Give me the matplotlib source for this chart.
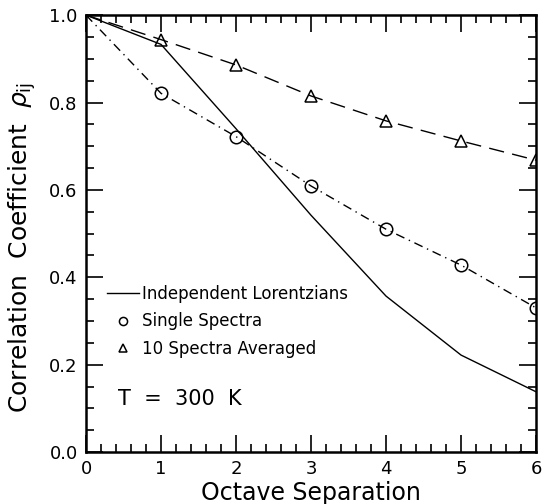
import matplotlib
matplotlib.use("Agg")
import matplotlib.pyplot as plt
from matplotlib.ticker import MultipleLocator

plt.rcParams['font.family'] = ['DejaVu Sans']
plt.rcParams['mathtext.fontset'] = 'dejavusans'

octave = [0, 1, 2, 3, 4, 5, 6]
lorentz = [1.0, 0.933, 0.74, 0.542, 0.357, 0.222, 0.138]
single = [1.0, 0.821, 0.722, 0.609, 0.510, 0.428, 0.330]
averaged = [1.0, 0.944, 0.886, 0.815, 0.758, 0.712, 0.668]

fig = plt.figure(figsize=(5.42, 5.04), dpi=100)
ax = fig.add_axes([0.1587, 0.103, 0.8303, 0.867])

ax.plot(octave, lorentz, color='black', lw=1.0, label='Independent Lorentzians')
ax.plot(octave, single, color='black', lw=1.0, dashes=[6.5, 3.5, 1, 3.5])
ax.plot(octave, averaged, color='black', lw=1.0, dashes=[11, 6])
ax.plot(octave[1:], single[1:], ls='none', marker='o', ms=9, mfc='none',
        mec='black', mew=1.1, label='Single Spectra')
ax.plot(octave[1:], averaged[1:], ls='none', marker='^', ms=9, mfc='none',
        mec='black', mew=1.1, label='10 Spectra Averaged')

ax.set_xlim(0, 6)
ax.set_ylim(0, 1.0)
ax.xaxis.set_major_locator(MultipleLocator(1))
ax.xaxis.set_minor_locator(MultipleLocator(0.2))
ax.yaxis.set_major_locator(MultipleLocator(0.2))
ax.yaxis.set_minor_locator(MultipleLocator(0.05))
ax.yaxis.set_major_formatter(plt.FormatStrFormatter('%.1f'))
ax.tick_params(which='both', direction='in', top=True, right=True,
               labelsize=13, width=1.2, pad=6)
ax.tick_params(which='major', length=12)
ax.tick_params(which='minor', length=6)
for s in ax.spines.values():
    s.set_linewidth(1.8)

ax.set_xlabel('Octave Separation', fontsize=17, labelpad=2)
ax.set_ylabel(r'Correlation  Coefficient  $\rho_{\rm ij}$', fontsize=18)
ax.yaxis.set_label_coords(-0.107, 0.469)

leg = ax.legend(loc='upper left', bbox_to_anchor=(0.013, 0.416), frameon=False,
                fontsize=12, handlelength=1.9, handletextpad=0.2,
                labelspacing=0.55, markerscale=0.65, numpoints=1)

ax.text(0.43, 0.108, 'T  =  300  K', fontsize=15, ha='left', va='baseline')

fig.savefig('out.png', dpi=100)
